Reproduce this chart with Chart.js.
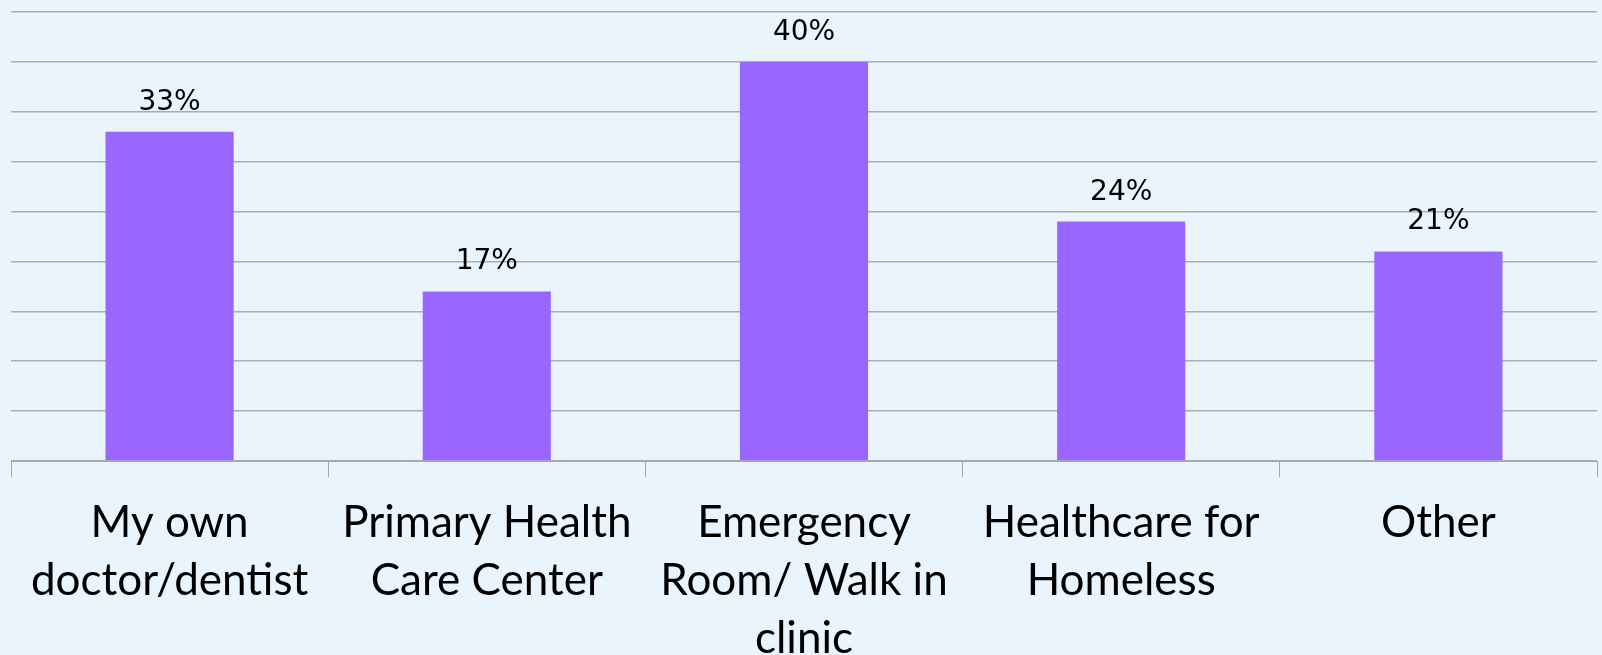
<!DOCTYPE html>
<html>
<head>
<meta charset="utf-8">
<script src="https://cdn.jsdelivr.net/npm/chart.js@4"></script>
<style>
  html, body { margin: 0; padding: 0; background: #EAF4FD; }
  #wrap { width: 1602px; height: 655px; }
</style>
</head>
<body>
<div id="wrap"><canvas id="usageChart" width="1602" height="655"></canvas></div>
<script>
const categories = [
    ['My own', 'doctor/dentist'],
    ['Primary Health', 'Care Center'],
    ['Emergency', 'Room/ Walk in', 'clinic'],
    ['Healthcare for', 'Homeless'],
    ['Other']
];
const percentValues = [33, 17, 40, 24, 21];
const valueLabels = ['33%', '17%', '40%', '24%', '21%'];

document.addEventListener('DOMContentLoaded', function () {
    const ctx = document.getElementById('usageChart');

    // labels above bars
    const barLabels = {
        id: 'barLabels',
        afterDatasetsDraw(chart) {
            const c = chart.ctx;
            const meta = chart.getDatasetMeta(0);
            c.save();
            c.font = "28px 'DejaVu Sans'";
            c.fillStyle = '#000';
            c.textAlign = 'center';
            c.textBaseline = 'alphabetic';
            meta.data.forEach((bar, i) => {
                c.fillText(valueLabels[i], bar.x, bar.y - 22);
            });
            c.restore();
        }
    };

    new Chart(ctx, {
        type: 'bar',
        data: {
            labels: categories,
            datasets: [{
                data: percentValues,
                backgroundColor: '#9966FF',
                borderWidth: 0,
                categoryPercentage: 1,
                barPercentage: 0.404
            }]
        },
        options: {
            responsive: false,
            animation: false,
            layout: { padding: { left: 11, right: 5, top: 12, bottom: 0 } },
            plugins: { legend: { display: false }, tooltip: { enabled: false } },
            scales: {
                y: {
                    min: 0, max: 45,
                    ticks: { display: false, stepSize: 5 },
                    border: { display: false },
                    grid: { color: '#AAAEB3', lineWidth: 1.5, drawTicks: false }
                },
                x: {
                    afterFit: (axis) => { axis.height = 194; },
                    border: { display: true, color: '#A6A6A6', width: 1 },
                    grid: { drawOnChartArea: false, drawTicks: true, tickLength: 16, color: '#A6A6A6', lineWidth: 1 },
                    ticks: {
                        color: '#000',
                        padding: 17,
                        maxRotation: 0,
                        autoSkip: false,
                        font: { family: 'Lato', size: 44, lineHeight: 1.32 }
                    }
                }
            }
        },
        plugins: [barLabels]
    });
});
</script>
</body>
</html>
